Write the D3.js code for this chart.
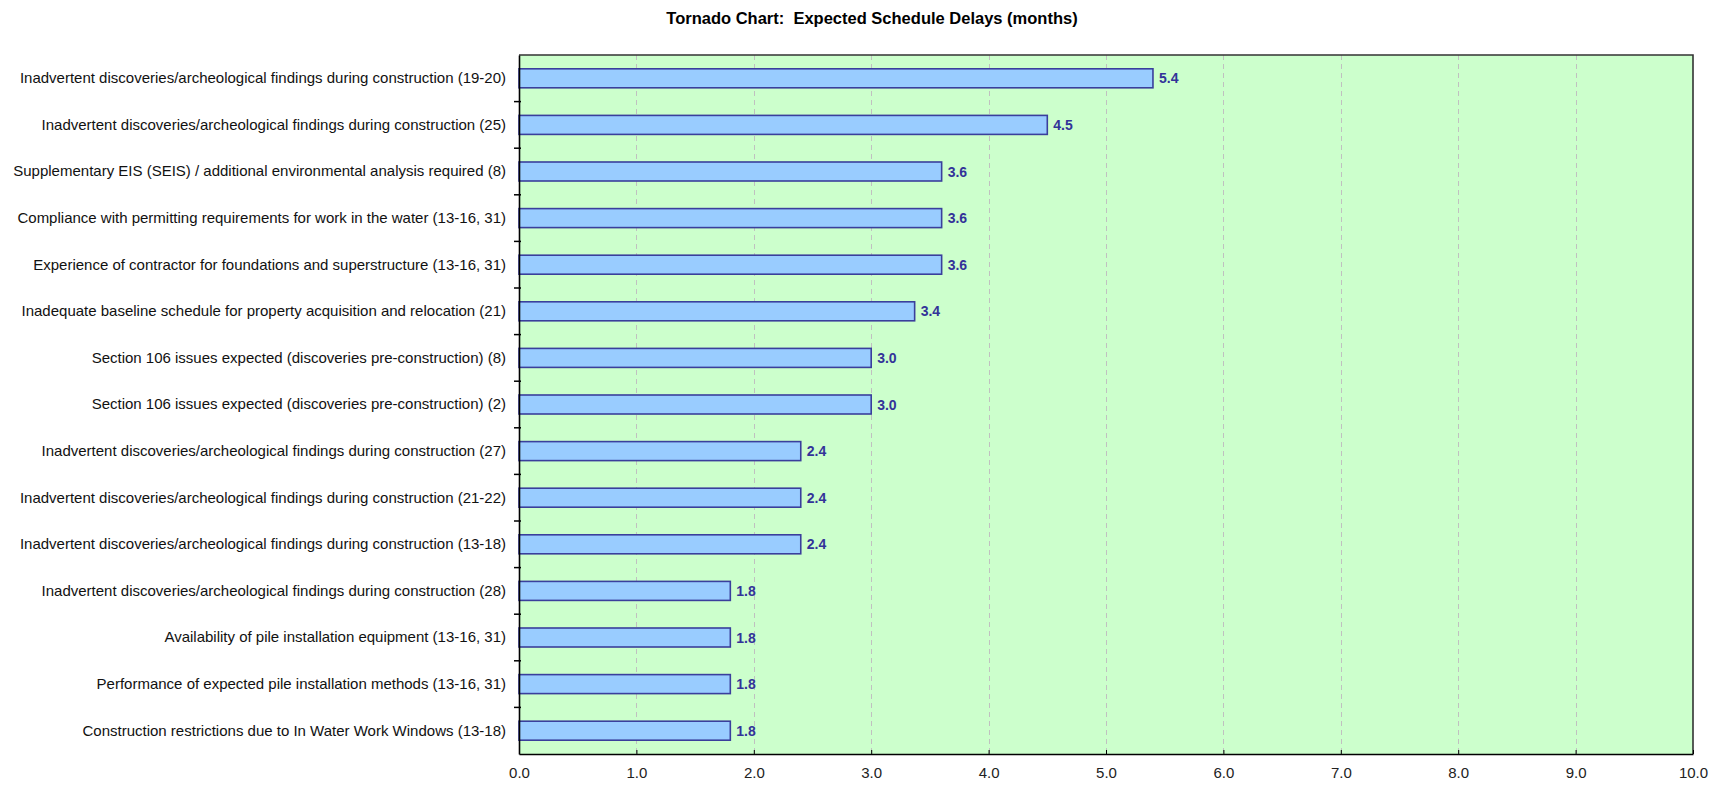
<!DOCTYPE html>
<html><head><meta charset="utf-8">
<script src="https://cdn.jsdelivr.net/npm/d3@7"></script>
<style>
html,body{margin:0;padding:0;background:#fff;}
svg{display:block;font-family:"Liberation Sans",Arial,sans-serif;}
</style></head>
<body>
<svg id="chart" width="1720" height="787"></svg>
<script>
const title = "Tornado Chart:  Expected Schedule Delays (months)";
const categories = [
  "Inadvertent discoveries/archeological findings during construction (19-20)",
  "Inadvertent discoveries/archeological findings during construction (25)",
  "Supplementary EIS (SEIS) / additional environmental analysis required (8)",
  "Compliance with permitting requirements for work in the water (13-16, 31)",
  "Experience of contractor for foundations and superstructure (13-16, 31)",
  "Inadequate baseline schedule for property acquisition and relocation (21)",
  "Section 106 issues expected (discoveries pre-construction) (8)",
  "Section 106 issues expected (discoveries pre-construction) (2)",
  "Inadvertent discoveries/archeological findings during construction (27)",
  "Inadvertent discoveries/archeological findings during construction (21-22)",
  "Inadvertent discoveries/archeological findings during construction (13-18)",
  "Inadvertent discoveries/archeological findings during construction (28)",
  "Availability of pile installation equipment (13-16, 31)",
  "Performance of expected pile installation methods (13-16, 31)",
  "Construction restrictions due to In Water Work Windows (13-18)"
];
const values = [5.4, 4.5, 3.6, 3.6, 3.6, 3.37, 3.0, 3.0, 2.4, 2.4, 2.4, 1.8, 1.8, 1.8, 1.8];
const xTicks = [0,1,2,3,4,5,6,7,8,9,10];
const xDomain = [0, 10];

const svg = d3.select("#chart");
const m = {left:519, right:1693, top:55, bottom:754};

const x = d3.scaleLinear().domain(xDomain).range([m.left, m.right]);
const y = d3.scaleBand().domain(categories).range([m.top, m.bottom]).paddingInner(0).paddingOuter(0);
const barH = 19;

// plot background
svg.append("rect").attr("x", m.left).attr("y", m.top)
  .attr("width", m.right - m.left).attr("height", m.bottom - m.top)
  .attr("fill", "#ccffcc");

// gridlines
svg.append("g").selectAll("line").data(xTicks.filter(d => d > 0 && d < 10)).join("line")
  .attr("x1", d => Math.round(x(d)) + 0.5).attr("x2", d => Math.round(x(d)) + 0.5)
  .attr("y1", m.top).attr("y2", m.bottom)
  .attr("stroke", "#c0c0c0").attr("stroke-width", 1).attr("stroke-dasharray", "5,4");

// bars
svg.append("g").selectAll("rect").data(categories).join("rect")
  .attr("x", x(0))
  .attr("y", d => y(d) + y.bandwidth()/2 - barH/2)
  .attr("width", (d,i) => x(values[i]) - x(0))
  .attr("height", barH)
  .attr("fill", "#99ccff").attr("stroke", "#3a3f9c").attr("stroke-width", 1.6);

// value labels
svg.append("g").selectAll("text").data(categories).join("text")
  .attr("x", (d,i) => x(values[i]) + 6)
  .attr("y", d => y(d) + y.bandwidth()/2)
  .attr("dy", "0.36em")
  .attr("font-size", 14).attr("font-weight", "bold").attr("fill", "#333399")
  .text((d,i) => d3.format(".1f")(values[i]));

// border top/right
svg.append("path")
  .attr("d", `M${m.left},${m.top}H${m.right}V${m.bottom}`)
  .attr("fill", "none").attr("stroke", "#333").attr("stroke-width", 1.6);

// x axis
const xAxis = svg.append("g").attr("transform", `translate(0,${m.bottom})`)
  .call(d3.axisBottom(x).tickValues(xTicks).tickFormat(d3.format(".1f")).tickSizeInner(-4).tickSizeOuter(0).tickPadding(13));
xAxis.select(".domain").attr("stroke", "#000").attr("stroke-width", 1.6);
xAxis.selectAll(".tick line").attr("stroke", "#000");
xAxis.selectAll("text").attr("font-size", 15).attr("fill", "#222").attr("font-family", "Liberation Sans, Arial, sans-serif");

// y axis
const yAxis = svg.append("g").attr("transform", `translate(${m.left},0)`)
  .call(d3.axisLeft(y).tickSize(0).tickPadding(13));
yAxis.select(".domain").attr("stroke", "#000").attr("stroke-width", 1.6);
yAxis.selectAll("text").attr("font-size", 15).attr("fill", "#111").attr("font-family", "Liberation Sans, Arial, sans-serif");

// y boundary ticks
const bounds = categories.slice(1).map(c => y(c));
svg.append("g").selectAll("line").data(bounds).join("line")
  .attr("x1", m.left - 5).attr("x2", m.left + 2)
  .attr("y1", d => d).attr("y2", d => d)
  .attr("stroke", "#000").attr("stroke-width", 1.5);

// title
svg.append("text").attr("x", 872).attr("y", 24).attr("text-anchor", "middle")
  .attr("font-size", 16.5).attr("font-weight", "bold").attr("fill", "#000")
  .style("white-space", "pre")
  .text(title);
</script>
</body></html>
